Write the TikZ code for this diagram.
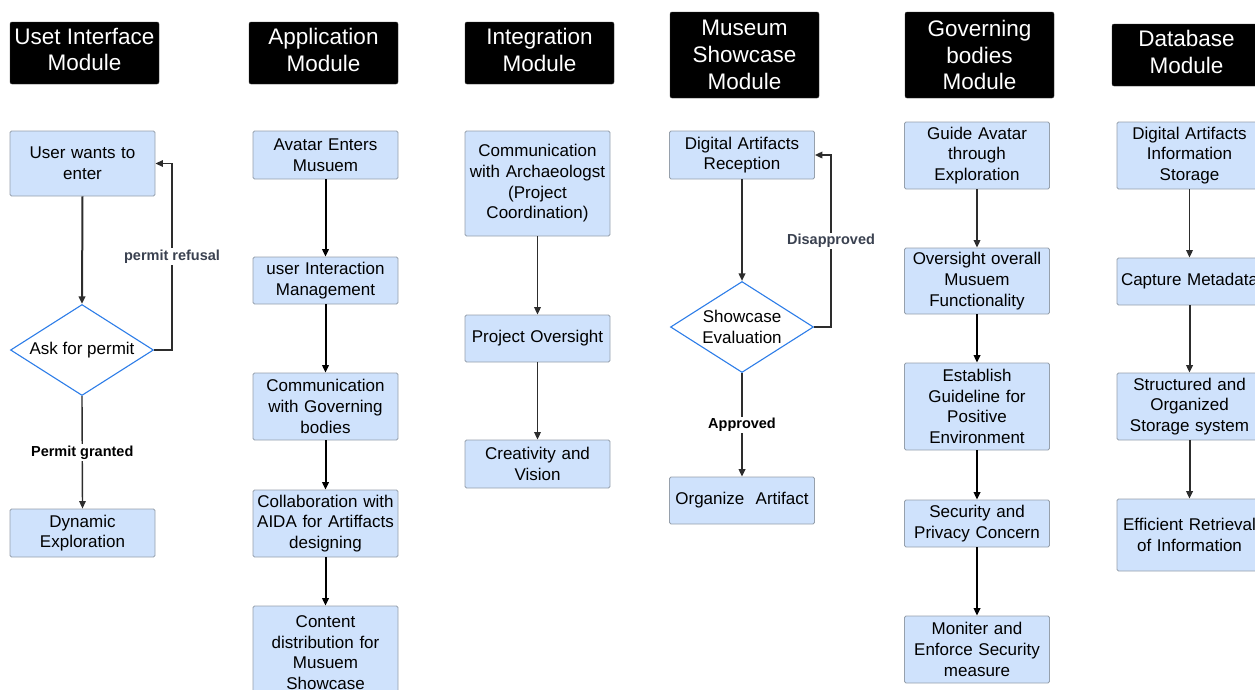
\documentclass[tikz,border=0pt]{standalone}
\usepackage{fontspec}
\setmainfont{Liberation Sans}
\usetikzlibrary{shapes.geometric,arrows.meta}

\definecolor{boxblue}{RGB}{207,226,252}
\definecolor{boxline}{RGB}{150,160,172}
\definecolor{diablue}{RGB}{45,125,232}
\definecolor{lblgray}{RGB}{58,65,80}
\definecolor{arrgray}{RGB}{45,45,45}

\begin{document}
\begin{tikzpicture}[x=1pt,y=-1pt,
    modhead/.style={fill=black,draw=black!80,rounded corners=2pt,text=white,minimum width=149pt,
      align=center,inner sep=0pt,font=\fontsize{22.5}{26.7}\selectfont},
    modtwo/.style={modhead,minimum height=62pt,text depth=7pt},
    procbox/.style={fill=boxblue,draw=boxline,line width=0.8pt,rounded corners=1.5pt,minimum width=145pt,
      text width=145pt,align=center,inner xsep=0pt,inner ysep=2pt,font=\fontsize{17}{20.7}\selectfont},
    decision/.style={diamond,draw=diablue,fill=white,line width=1.1pt,minimum width=143pt,minimum height=91pt,
      aspect=1.57,inner sep=0pt,align=center,font=\fontsize{17}{20.7}\selectfont},
    flow/.style={draw=arrgray,line width=1.4pt,-{Triangle[length=7.5pt,width=6.5pt]}},
    flowthick/.style={flow,line width=2pt},
    lbl/.style={fill=white,inner sep=1.5pt,font=\fontsize{14.5}{17}\selectfont\bfseries}]

    \useasboundingbox (0,0) rectangle (1255,689);
    \clip (0,0) rectangle (1255,689);

    % module headers
    \node[modtwo] (hUI) at (84.5,53) {Uset Interface\\Module};
    \node[modtwo] (hApp) at (323.5,53) {Application\\Module};
    \node[modtwo] (hInt) at (539.5,53) {Integration\\Module};
    \node[modhead,minimum height=86pt] (hMus) at (744.5,55) {Museum\\Showcase\\Module};
    \node[modhead,minimum height=86pt] (hGov) at (979.5,55) {Governing\\bodies\\Module};
    \node[modtwo] (hDb) at (1186.5,55) {Database\\Module};

    % user interface
    \node[procbox,minimum height=65pt] (uEnter) at (82.5,163.5) {User wants to\\enter};
    \node[decision] (dPermit) at (82,350) {Ask for permit};
    \node[procbox,minimum height=48pt] (uDyn) at (82.5,533) {Dynamic\\Exploration};

    \draw[flowthick] (uEnter.south) -- (dPermit.north);
    \draw[flow] (dPermit.east) -- ++(18,0) |- (uEnter.east)
        node[lbl,text=lblgray,pos=0.25] {permit refusal};
    \draw[flow] (dPermit.south) -- (uDyn.north) node[lbl,midway] {Permit granted};

    % application
    \node[procbox,minimum height=48pt] (aEnter) at (325.5,155) {Avatar Enters\\Musuem};
    \node[procbox,minimum height=47pt] (aUser) at (325.5,280.5) {user Interaction\\Management};
    \node[procbox,minimum height=67pt] (aComm) at (325.5,406.5) {Communication\\with Governing\\bodies};
    \node[procbox,minimum height=67pt] (aCollab) at (325.5,523.5) {Collaboration with\\AIDA for Artiffacts\\designing};
    \node[procbox,minimum height=93pt] (aContent) at (325.5,652.5) {Content\\distribution for\\Musuem\\Showcase};

    \draw[flowthick,draw=black] (aEnter.south) -- (aUser.north);
    \draw[flowthick,draw=black] (aUser.south) -- (aComm.north);
    \draw[flowthick,draw=black] (aComm.south) -- (aCollab.north);
    \draw[flowthick,draw=black] (aCollab.south) -- (aContent.north);

    % integration
    \node[procbox,minimum height=105pt] (iComm) at (537.5,183.5) {Communication\\with Archaeologst\\(Project\\Coordination)};
    \node[procbox,minimum height=47pt] (iProj) at (537.5,338.5) {Project Oversight};
    \node[procbox,minimum height=48pt] (iCreat) at (537.5,464) {Creativity and\\Vision};

    \draw[flow,line width=1.7pt] (iComm.south) -- (iProj.north);
    \draw[flow,line width=1.7pt] (iProj.south) -- (iCreat.north);

    % museum showcase
    \node[procbox,minimum height=48pt] (mDig) at (742,155) {Digital Artifacts\\Reception};
    \node[decision] (mEval) at (742,327) {Showcase\\Evaluation};
    \node[procbox,minimum height=47pt] (mOrg) at (742,500.5) {Organize~~Artifact};

    \draw[flow,line width=1.7pt] (mDig.south) -- (mEval.north);
    \draw[flowthick] (mEval.east) -- ++(17,0) |- (mDig.east)
        node[lbl,text=lblgray,pos=0.25] {Disapproved};
    \draw[flowthick] (mEval.south) -- (mOrg.north) node[lbl,midway] {Approved};

    % governing bodies
    \node[procbox,minimum height=67pt] (gGuide) at (977,155.5) {Guide Avatar\\through\\Exploration};
    \node[procbox,minimum height=66pt] (gOver) at (977,281) {Oversight overall\\Musuem\\Functionality};
    \node[procbox,minimum height=87pt] (gEst) at (977,406.5) {Establish\\Guideline for\\Positive\\Environment};
    \node[procbox,minimum height=47pt] (gSec) at (977,523.5) {Security and\\Privacy Concern};
    \node[procbox,minimum height=67pt] (gMon) at (977,649.5) {Moniter and\\Enforce Security\\measure};

    \draw[flow,line width=1.7pt] (gGuide.south) -- (gOver.north);
    \draw[flowthick,draw=black] (gOver.south) -- (gEst.north);
    \draw[flowthick,draw=black] (gEst.south) -- (gSec.north);
    \draw[flowthick,draw=black] (gSec.south) -- (gMon.north);

    % database
    \node[procbox,minimum height=67pt] (dInfo) at (1189.5,155.5) {Digital Artifacts\\Information\\Storage};
    \node[procbox,minimum height=47pt] (dMeta) at (1189.5,281.5) {Capture Metadata};
    \node[procbox,minimum height=67pt] (dStruct) at (1189.5,406.5) {Structured and\\Organized\\Storage system};
    \node[procbox,minimum height=72pt] (dEff) at (1189.5,535) {Efficient Retrieval\\of Information};

    \draw[flow,line width=1.7pt] (dInfo.south) -- (dMeta.north);
    \draw[flowthick] (dMeta.south) -- (dStruct.north);
    \draw[flowthick] (dStruct.south) -- (dEff.north);

\end{tikzpicture}
\end{document}
